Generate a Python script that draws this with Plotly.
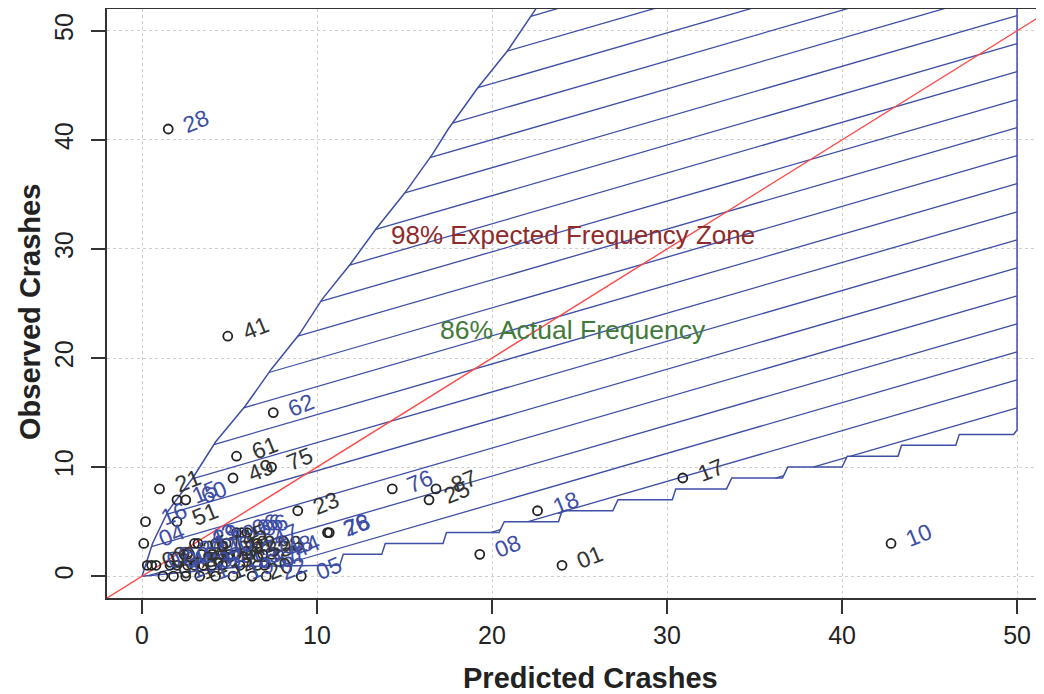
import plotly.graph_objects as go

# ---------------- data ----------------
site_id = ["28", "41", "62", "61", "49", "75", "21", "15", "60", "16", "51", "04",
           "23", "26", "78", "05", "76", "87", "25", "18", "08", "01", "17", "10",
           "06", "66", "96", "29", "79", "59", "35", "46", "55", "58", "65", "53",
           "57", "67", "39", "44", "07", "11", "12", "13", "14", "19", "20", "22",
           "03", "02", "09", "24", "27", "30", "31", "32", "36", "37", "38", "40",
           "42", "43", "45", "47", "48"]
predicted = [1.5, 4.9, 7.5, 5.4, 5.2, 7.4, 1.0, 2.0, 2.5, 0.2, 2.0, 0.1,
             8.9, 10.6, 10.7, 9.1, 14.3, 16.8, 16.4, 22.6, 19.3, 24.0, 30.9, 42.8,
             5.4, 5.7, 6.0, 3.2, 4.2, 5.0, 2.6, 2.0, 3.0, 4.0, 4.6, 5.6,
             6.6, 7.0, 6.2, 7.8, 1.2, 1.8, 2.5, 3.3, 4.2, 5.2, 6.3, 7.1,
             0.3, 0.55, 0.8, 2.4, 3.4, 1.6, 2.6, 3.5, 4.6, 6.0, 6.9, 4.0,
             5.4, 3.0, 4.8, 6.6, 7.4]
observed = [41, 22, 15, 11, 9, 10, 8, 7, 7, 5, 5, 3,
            6, 4, 4, 0, 8, 8, 7, 6, 2, 1, 9, 3,
            4, 4, 4, 3, 3, 2, 2, 1, 1, 1, 2, 1,
            1, 1, 2, 2, 0, 0, 0, 0, 0, 0, 0, 0,
            1, 1, 1, 2, 2, 1, 1, 1, 1, 2, 2, 2,
            2, 3, 3, 3, 2]
label_tone = ["b", "k", "b", "k", "k", "k", "k", "b", "b", "b", "k", "b",
              "k", "b", "b", "b", "b", "k", "k", "b", "b", "k", "k", "b",
              "b", "b", "b", "b", "b", "k", "k", "b", "k", "b", "k", "b",
              "b", "b", "k", "b", "k", "b", "k", "b", "k", "b", "k", "b",
              "k", "b", "k", "b", "k", "b", "k", "b", "k", "b", "k", "b",
              "k", "b", "k", "b", "b"]

# 98% expected frequency zone boundaries
upper_x = [0, 0.6, 1.5, 2.9, 4.2, 5.9, 7.4, 9.0, 10.3, 11.9, 13.4, 15.0, 16.6,
           17.5, 19.2, 20.9, 22.5, 23.3]
upper_y = [0, 3, 6, 9, 12.3, 15.6, 19, 22.2, 25.4, 28.6, 31.9, 35.1, 38.7,
           41, 44.8, 48.2, 52, 56]
lower_x = [0, 6.0, 11.3, 11.5, 13.7, 13.9, 17.2, 17.4, 20.4, 20.7, 23.8, 24.0,
           26.9, 27.2, 30.3, 30.5, 33.4, 33.7, 36.6, 36.9, 40.0, 40.3, 43.2, 43.4,
           46.5, 46.7, 49.8, 50.0, 50.0]
lower_y = [0, 0.9, 1.0, 2, 2, 3, 3, 4, 4, 5, 5, 6, 6, 7, 7, 8, 8, 9, 9, 10,
           10, 11, 11, 12, 12, 13, 13, 13.4, 56]

x_ticks = [0, 10, 20, 30, 40, 50]
y_ticks = [0, 10, 20, 30, 40, 50]

# ---------------- style ----------------
BLUE = "#3E4EA6"
RED = "#FF4A4A"
FONT = "Liberation Sans"
HATCH_SLOPE = 0.465      # data units
HATCH_STEP = 2.57        # vertical spacing at x=50
HATCH_REF = 51.4         # a hatch line passes (50, HATCH_REF)

# closed polygon: lower boundary out, then upper boundary back
poly_x = lower_x + upper_x[::-1]
poly_y = lower_y + upper_y[::-1]


def hatch_segments(px, py, slope, ref, step):
    xs, ys = [], []
    n = len(px)
    for k in range(-20, 12):
        c = ref + k * step
        hits = []
        for i in range(n):
            x1, y1 = px[i], py[i]
            x2, y2 = px[(i + 1) % n], py[(i + 1) % n]
            f1 = y1 - c - slope * (x1 - 50)
            f2 = y2 - c - slope * (x2 - 50)
            if (f1 > 0) != (f2 > 0):
                t = f1 / (f1 - f2)
                hits.append(x1 + t * (x2 - x1))
        hits.sort()
        for j in range(0, len(hits) - 1, 2):
            a, b = hits[j], hits[j + 1]
            xs += [a, b, None]
            ys += [c + slope * (a - 50), c + slope * (b - 50), None]
    return xs, ys


hx, hy = hatch_segments(poly_x, poly_y, HATCH_SLOPE, HATCH_REF, HATCH_STEP)

fig = go.Figure()

fig.add_trace(go.Scatter(x=hx, y=hy, mode="lines",
                         line=dict(color=BLUE, width=1.3), hoverinfo="skip"))
fig.add_trace(go.Scatter(x=poly_x + [poly_x[0]], y=poly_y + [poly_y[0]], mode="lines",
                         line=dict(color=BLUE, width=1.5), hoverinfo="skip"))
# 1:1 line
fig.add_trace(go.Scatter(x=[-5, 60], y=[-5, 60], mode="lines",
                         line=dict(color=RED, width=1.4), hoverinfo="skip"))
fig.add_trace(go.Scatter(x=predicted, y=observed, mode="markers",
                         marker=dict(symbol="circle-open", size=9, color="#222222",
                                     line=dict(width=1.8)),
                         cliponaxis=False))

for sid, xv, yv, tone in zip(site_id, predicted, observed, label_tone):
    fig.add_annotation(x=xv, y=yv, text=sid, showarrow=False, textangle=-22,
                       xshift=28, yshift=8, xanchor="center", yanchor="middle",
                       font=dict(family=FONT, size=23,
                                 color=BLUE if tone == "b" else "#333333"))

fig.add_annotation(x=24.6, y=31.3, text="98% Expected Frequency Zone", showarrow=False,
                   font=dict(family=FONT, size=26, color="#8E2B2B"))
fig.add_annotation(x=24.6, y=22.6, text="86% Actual Frequency", showarrow=False,
                   font=dict(family=FONT, size=26.5, color="#3F7A3A"))

# axis titles
fig.add_annotation(xref="paper", yref="paper", x=0.5155, y=-0.1358,
                   xanchor="center", yanchor="middle", showarrow=False,
                   text="Predicted Crashes",
                   font=dict(family=FONT, size=29, weight="bold", color="#222222"))
fig.add_annotation(xref="paper", yref="paper", x=-0.0822, y=0.4856,
                   xanchor="center", yanchor="middle", showarrow=False, textangle=-90,
                   text="Observed Crashes",
                   font=dict(family=FONT, size=29, weight="bold", color="#222222"))

# the page body adds an 8px offset, so the figure is sized to the visible window
fig.update_layout(
    width=1036, height=686,
    margin=dict(l=99, r=0, t=1, b=96),
    plot_bgcolor="white", paper_bgcolor="white",
    showlegend=False,
    font=dict(family=FONT, color="#222222"),
)
fig.update_xaxes(range=[-2, 51.54], tickvals=x_ticks, ticks="outside", ticklen=14,
                 tickwidth=1.5, tickcolor="#333333", showline=True, linecolor="#333333",
                 linewidth=1.5, mirror=True, showgrid=True, gridcolor="#CFCFCF",
                 griddash="dot", gridwidth=1.2, zeroline=False, automargin=False,
                 tickfont=dict(size=25, color="#222222"), ticklabelstandoff=0)
fig.update_yaxes(range=[-2, 52], tickvals=y_ticks, ticks="outside", ticklen=14,
                 tickwidth=1.5, tickcolor="#333333", showline=True, linecolor="#333333",
                 linewidth=1.5, showgrid=True, gridcolor="#CFCFCF",
                 griddash="dot", gridwidth=1.2, zeroline=False, tickangle=-90,
                 automargin=False,
                 tickfont=dict(size=25, color="#222222"), ticklabelstandoff=8)

fig.write_html("out.html")
